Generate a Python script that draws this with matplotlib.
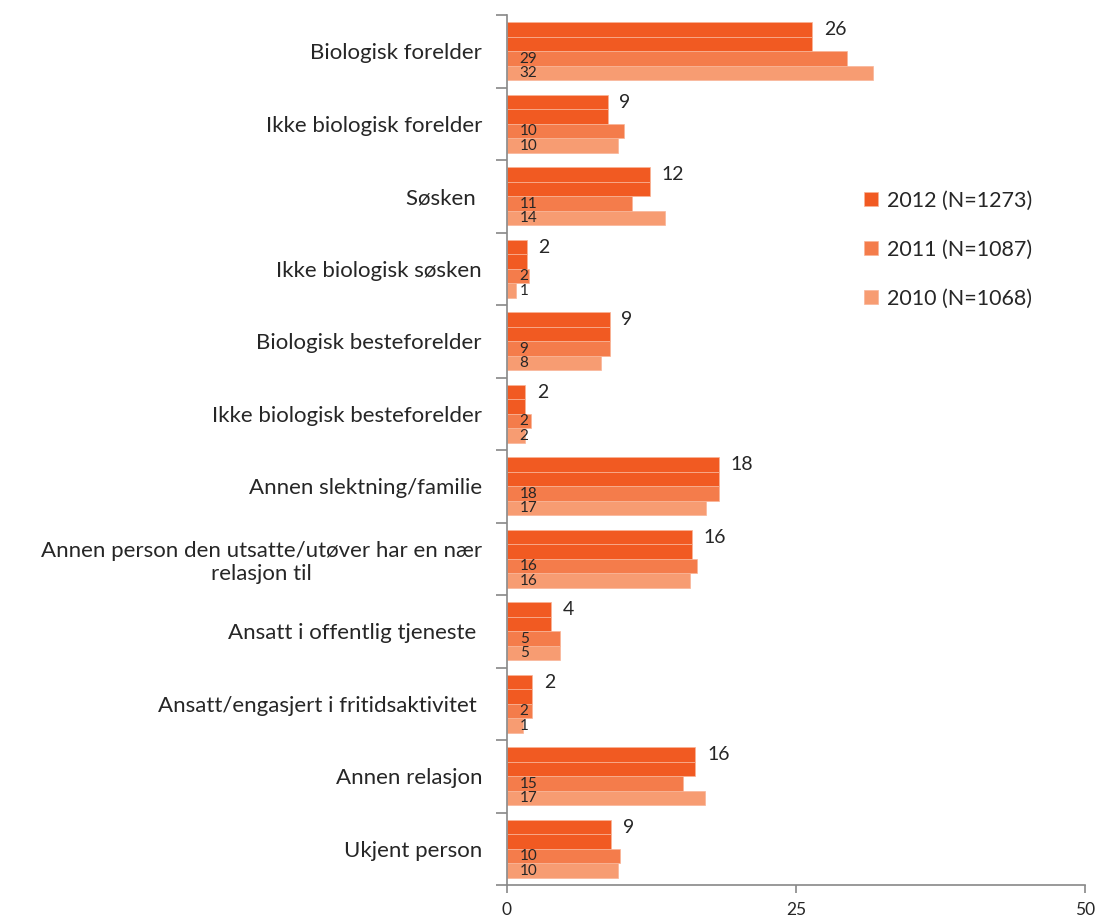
import matplotlib
matplotlib.use("Agg")
import matplotlib.pyplot as plt
import numpy as np

categories = [
    "Biologisk forelder",
    "Ikke biologisk forelder",
    "Søsken ",
    "Ikke biologisk søsken",
    "Biologisk besteforelder",
    "Ikke biologisk besteforelder",
    "Annen slektning/familie",
    "Annen person den utsatte/utøver har en nær\nrelasjon til",
    "Ansatt i offentlig tjeneste ",
    "Ansatt/engasjert i fritidsaktivitet ",
    "Annen relasjon",
    "Ukjent person",
]
v2012 = [26.4, 8.7, 12.4, 1.7, 8.9, 1.6, 18.3, 16.0, 3.8, 2.2, 16.3, 9.0]
v2011 = [29.4, 10.1, 10.8, 1.9, 8.9, 2.1, 18.3, 16.4, 4.6, 2.2, 15.2, 9.8]
v2010 = [31.7, 9.6, 13.7, 0.8, 8.1, 1.6, 17.2, 15.8, 4.6, 1.4, 17.1, 9.6]
series_names = ["2012 (N=1273)", "2011 (N=1087)", "2010 (N=1068)"]
x_ticks = [0, 25, 50]

c2012 = "#F15A22"
c2011 = "#F47C4B"
c2010 = "#F79C72"

plt.rcParams['font.family'] = ['Lato', 'DejaVu Sans']

fig = plt.figure(figsize=(10.97, 9.17), dpi=100)
ax = fig.add_axes([507/1097, 1-885/917, (1085-507)/1097, (885-15)/917])

y = np.arange(len(categories))
h = 0.2
edge = "#F9B497"
ax.barh(y - 0.3, v2012, height=h, color=c2012, edgecolor=edge, linewidth=0.5, label=series_names[0])
ax.barh(y - 0.1, v2012, height=h, color=c2012, edgecolor=edge, linewidth=0.5)
ax.barh(y + 0.1, v2011, height=h, color=c2011, edgecolor=edge, linewidth=0.5, label=series_names[1])
ax.barh(y + 0.3, v2010, height=h, color=c2010, edgecolor=edge, linewidth=0.5, label=series_names[2])

for i in range(len(categories)):
    ax.text(v2012[i] + 1.0, y[i] - 0.3, f"{v2012[i]:.0f}", va="center", ha="left",
            fontsize=14, color="#262626")
    ax.text(1.1, y[i] + 0.1, f"{v2011[i]:.0f}", va="center", ha="left",
            fontsize=11, color="#262626")
    ax.text(1.1, y[i] + 0.3, f"{v2010[i]:.0f}", va="center", ha="left",
            fontsize=11, color="#262626")

ax.set_xlim(0, 50)
ax.set_ylim(len(categories) - 0.5, -0.5)
ax.set_xticks(x_ticks)
ax.set_xticklabels([str(t) for t in x_ticks], fontsize=12.5, color="#262626")
ax.tick_params(axis="x", length=6, width=1.2, color="#888888", pad=6)

ax.set_yticks(y)
ax.set_yticklabels(categories, fontsize=16, color="#262626", multialignment="center")
ax.tick_params(axis="y", which="major", length=0, pad=18)
ax.set_yticks(np.arange(len(categories) + 1) - 0.5, minor=True)
ax.tick_params(axis="y", which="minor", length=8, width=1.2, color="#888888")

for s in ["top", "right"]:
    ax.spines[s].set_visible(False)
for s in ["left", "bottom"]:
    ax.spines[s].set_color("#888888")
    ax.spines[s].set_linewidth(1.2)

leg = ax.legend(loc="upper left", bbox_to_anchor=((855-507)/578, (885-182)/870),
                frameon=False, fontsize=15.5, handlelength=0.65, handleheight=0.65,
                handletextpad=0.45, labelspacing=1.35, borderaxespad=0)
for t in leg.get_texts():
    t.set_color("#262626")

fig.savefig("out.png", dpi=100)
